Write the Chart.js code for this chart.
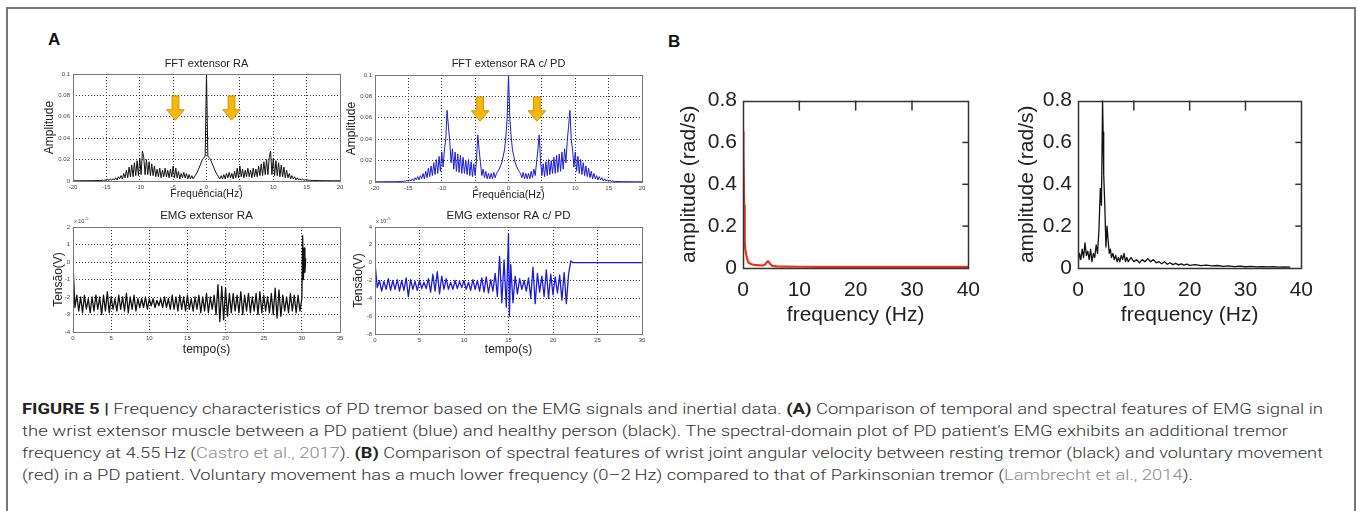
<!DOCTYPE html>
<html lang="pt">
<head>
<meta charset="utf-8">
<title>Figure 5 - PD tremor</title>
<script src="https://cdn.jsdelivr.net/npm/chart.js@4.4.1/dist/chart.umd.min.js"></script>
<style>
  html, body { margin: 0; padding: 0; background: #fff; }
  body { width: 1358px; height: 511px; position: relative; overflow: hidden; font-family: "Liberation Sans", Arial, sans-serif; }
  .frame { position: absolute; left: 6px; top: 7px; width: 1346px; height: 600px; border: 2px solid #777; border-bottom: none; }
  .panel-letter { position: absolute; font-weight: bold; font-size: 17px; line-height: 17px; color: #111; }
  canvas { position: absolute; }
  #caption { position: absolute; left: 22px; top: 398px; font-family: Roboto, "Liberation Sans", sans-serif; font-weight: 300; font-size: 15px; line-height: 22px; color: #333; }
  #caption .ln { white-space: nowrap; transform-origin: 0 0; }
  #caption b { font-weight: 700; color: #222; }
  #caption .ref { color: #8a8a8a; }
</style>
</head>
<body>
<div class="frame"></div>
<div class="panel-letter" style="left:48px;top:31px">A</div>
<div class="panel-letter" style="left:668px;top:33px">B</div>

<canvas id="fftHealthy"></canvas>
<canvas id="fftPd"></canvas>
<canvas id="emgHealthy"></canvas>
<canvas id="emgPd"></canvas>
<canvas id="velVoluntary"></canvas>
<canvas id="velRest"></canvas>

<div id="caption">
  <div class="ln"><span><b>FIGURE 5 |</b> Frequency characteristics of PD tremor based on the EMG signals and inertial data. <b>(A)</b> Comparison of temporal and spectral features of EMG signal in</span></div>
  <div class="ln"><span>the wrist extensor muscle between a PD patient (blue) and healthy person (black). The spectral-domain plot of PD patient’s EMG exhibits an additional tremor</span></div>
  <div class="ln"><span>frequency at 4.55&thinsp;Hz (<span class="ref">Castro et al., 2017</span>). <b>(B)</b> Comparison of spectral features of wrist joint angular velocity between resting tremor (black) and voluntary movement</span></div>
  <div class="ln"><span>(red) in a PD patient. Voluntary movement has a much lower frequency (0–2&thinsp;Hz) compared to that of Parkinsonian tremor (<span class="ref">Lambrecht et al., 2014</span>).</span></div>
</div>

<script>
// Painel A - FFT (metade positiva, o espectro é espelhado em 0 Hz)
const fftFreqHalf = [0,0.2,0.4,0.6,0.8,1,1.2,1.4,1.6,1.8,2,2.2,2.4,2.6,2.8,3,3.2,3.4,3.6,3.8,
  4,4.2,4.4,4.6,4.8,5,5.2,5.4,5.6,5.8,6,6.2,6.4,6.6,6.8,7,7.2,7.4,7.6,7.8,
  8,8.2,8.4,8.6,8.8,9,9.2,9.4,9.6,9.8,10,10.2,10.4,10.6,10.8,11,11.2,11.4,11.6,11.8,
  12,12.2,12.4,12.6,12.8,13,13.2,13.4,13.6,13.8,14,14.2,14.4,14.6,14.8,15,15.2,15.4,15.6,15.8,
  16,17,18,19,20];
const fftHealthyHalf = [0.100,0.023,0.022,0.020,0.017,0.014,0.011,0.008,0.006,0.004,
  0.002,0.005,0.002,0.006,0.002,0.007,0.003,0.008,0.003,0.007,
  0.002,0.009,0.003,0.012,0.003,0.014,0.004,0.011,0.003,0.010,
  0.004,0.012,0.004,0.010,0.003,0.012,0.004,0.011,0.004,0.014,
  0.005,0.016,0.005,0.018,0.006,0.020,0.006,0.022,0.028,0.006,
  0.021,0.005,0.019,0.005,0.017,0.004,0.015,0.004,0.013,0.003,
  0.010,0.003,0.007,0.002,0.005,0.002,0.004,0.001,0.003,0.001,
  0.002,0.001,0.002,0.0005,0.0015,0.0005,0.001,0.0005,0.0008,0.0004,
  0.0005,0.0003,0.0003,0.0002,0.0002];
const fftPdHalf = [0.100,0.060,0.042,0.030,0.024,0.018,0.015,0.012,0.010,0.008,
  0.004,0.009,0.003,0.008,0.003,0.008,0.003,0.010,0.004,0.012,
  0.006,0.018,0.030,0.044,0.020,0.006,0.017,0.005,0.019,0.006,
  0.021,0.007,0.020,0.008,0.023,0.008,0.025,0.009,0.026,0.010,
  0.028,0.012,0.031,0.018,0.038,0.052,0.067,0.040,0.030,0.014,
  0.028,0.010,0.024,0.008,0.021,0.007,0.018,0.006,0.015,0.005,
  0.013,0.004,0.010,0.003,0.008,0.003,0.006,0.002,0.005,0.002,
  0.004,0.001,0.003,0.001,0.002,0.0008,0.0015,0.0006,0.001,0.0005,
  0.0005,0.0003,0.0003,0.0002,0.0002];
const fftFreqTicks = [-20, -15, -10, -5, 0, 5, 10, 15, 20];
const fftAmpTicks = [0, 0.02, 0.04, 0.06, 0.08, 0.1];
const arrowFreqHealthy = [-4.65, 3.75];
const arrowFreqPd = [-4.25, 4.25];
const arrowAmpRange = [0.0795, 0.0568]; // topo e ponta das setas

// Painel A - EMG (tempo em s, tensão em x 10^-5 V)
const emgHealthyTime = [0,0.25,0.5,0.75,1,1.25,1.5,1.75,2,2.25,2.5,2.75,3,3.25,3.5,3.75,4,4.25,4.5,4.75,
  5,5.25,5.5,5.75,6,6.25,6.5,6.75,7,7.25,7.5,7.75,8,8.25,8.5,8.75,9,9.25,9.5,9.75,
  10,10.25,10.5,10.75,11,11.25,11.5,11.75,12,12.25,12.5,12.75,13,13.25,13.5,13.75,14,14.25,14.5,14.75,
  15,15.25,15.5,15.75,16,16.25,16.5,16.75,17,17.25,17.5,17.75,18,18.25,18.5,18.75,19,19.25,19.5,19.75,
  20,20.25,20.5,20.75,21,21.25,21.5,21.75,22,22.25,22.5,22.75,23,23.25,23.5,23.75,24,24.25,24.5,24.75,
  25,25.25,25.5,25.75,26,26.25,26.5,26.75,27,27.25,27.5,27.75,28,28.25,28.5,28.75,29,29.25,29.5,29.75,
  30,30.1,30.2,30.3,30.4,30.5];
const emgHealthyVolt = [-0.1,-2.6,-1.9,-2.8, -2.0,-2.9,-1.9,-2.7, -2.1,-2.9,-2.0,-2.8, -1.9,-2.7,-2.0,-3.0, -1.9,-2.8,-1.7,-2.9,
  -2.0,-2.7,-2.1,-2.8, -1.9,-2.7,-2.0,-2.8, -1.8,-2.9,-2.0,-2.7, -1.9,-2.8,-2.1,-2.6, -2.1,-2.6,-2.0,-2.7,
  -2.1,-2.5,-2.1,-2.6, -2.2,-2.5,-2.1,-2.6, -2.0,-2.6,-2.1,-2.7, -1.9,-2.7,-2.0,-2.8, -1.9,-2.7,-2.0,-2.8,
  -1.9,-2.7,-2.1,-2.8, -2.0,-2.7,-1.9,-2.9, -2.0,-2.8,-1.8,-2.9, -2.0,-2.7,-1.9,-3.0, -1.3,-3.4,-1.4,-3.3,
  -1.5,-3.1,-1.8,-2.9, -1.8,-2.8,-1.9,-2.9, -1.7,-3.0,-1.9,-2.8, -1.8,-2.9,-2.0,-2.8, -1.8,-3.0,-1.7,-2.9,
  -1.9,-2.8,-2.0,-2.9, -1.8,-3.0,-1.5,-3.2, -1.6,-3.1,-1.9,-2.8, -2.0,-2.9,-1.8,-2.8, -1.9,-2.9,-1.9,-2.8,
  -2.1,1.5,-1.0,0.8,-0.6,0.2];
const emgPdTime = [0,0.25,0.5,0.75,1,1.25,1.5,1.75,2,2.25,2.5,2.75,3,3.25,3.5,3.75,4,4.25,4.5,4.75,
  5,5.25,5.5,5.75,6,6.25,6.5,6.75,7,7.25,7.5,7.75,8,8.25,8.5,8.75,9,9.25,9.5,9.75,
  10,10.25,10.5,10.75,11,11.25,11.5,11.75,12,12.25,12.5,12.75,13,13.25,13.5,13.75,14,14.25,14.5,14.75,
  15,15.1,15.25,15.5,15.75,16,16.25,16.5,16.75,17,17.25,17.5,17.75,18,18.25,18.5,18.75,19,19.25,19.5,19.75,
  20,20.25,20.5,20.75,21,21.25,21.5,21.75,22,22.25,30];
const emgPdVolt = [0.0,-2.8,-2.0,-3.2, -2.1,-3.0,-1.8,-3.1, -2.0,-3.0,-1.9,-3.2, -2.0,-3.1,-1.7,-3.8, -1.9,-3.0,-2.1,-3.1,
  -2.0,-2.9,-2.2,-2.9, -1.8,-3.3,-1.3,-3.2, -1.0,-3.5,-1.5,-3.0, -1.8,-3.0,-2.2,-3.0, -2.0,-2.9,-2.1,-2.8,
  -2.0,-3.0,-2.2,-3.1, -1.9,-3.0,-2.0,-3.2, -1.7,-3.3,-1.6,-3.4, -1.9,-3.2,-1.2,-3.8, 0.7,-4.5,0.3,-5.0,
  3.2,-6.0,-0.2,-4.5,-1.5, -3.5,-1.8,-3.0,-2.0, -3.2,-1.7,-4.0,-0.5, -4.6,-1.2,-3.3,-1.5, -3.8,-0.8,-4.0,-1.3,
  -3.6,-1.6,-3.4,-1.4, -4.2,-1.1,-4.6,-1.3, 0.2,0, 0];
const emgHealthyTimeTicks = [0, 5, 10, 15, 20, 25, 30, 35];
const emgHealthyVoltTicks = [-4, -3, -2, -1, 0, 1, 2];
const emgPdTimeTicks = [0, 5, 10, 15, 20, 25, 30];
const emgPdVoltTicks = [-8, -6, -4, -2, 0, 2, 4];

// Painel B - velocidade angular do punho (rad/s)
const voluntaryFreq = [0,0.05,0.1,0.2,0.3,0.4,0.6,0.8,1,1.5,2,2.5,3,3.5,4,4.3,4.5,4.8,5.2,6,8,10,15,20,25,30,35,40];
const voluntaryAmp = [0.65,0.60,0.55,0.30,0.13,0.09,0.06,0.04,0.025,0.018,0.015,0.014,0.013,0.012,0.018,0.030,0.032,0.020,0.010,0.008,0.007,0.006,0.005,0.005,0.005,0.005,0.005,0.005];
const restFreq = [0,0.25,0.5,0.75,1,1.25,1.5,1.75,2,2.25,2.5,2.75,3,3.25,3.5,3.75,
  4,4.2,4.4,4.5,4.6,4.8,5,5.2,5.4,5.6,5.8,
  6,6.25,6.5,6.75,7,7.25,7.5,7.75,8,8.25,8.5,8.75,
  9,9.5,10,10.5,11,11.5,12,12.5,13,13.5,14,14.5,15,15.5,16,16.5,17,17.5,18,18.5,19,19.5,
  20,21,22,23,24,25,26,27,28,29,30,31,32,33,34,35,36,37,38];
const restAmp = [0.02,0.07,0.04,0.09,0.05,0.12,0.06,0.08,0.04,0.09,0.03,0.07,0.05,0.11,0.07,0.18,
  0.38,0.30,0.80,0.65,0.45,0.30,0.10,0.20,0.13,0.07,0.09,
  0.05,0.07,0.04,0.06,0.03,0.05,0.03,0.06,0.04,0.07,0.03,0.05,
  0.03,0.05,0.03,0.04,0.025,0.04,0.03,0.045,0.03,0.04,0.025,0.03,0.02,0.03,0.018,0.025,0.016,0.022,0.015,0.02,0.014,0.018,
  0.013,0.016,0.011,0.014,0.010,0.012,0.008,0.010,0.007,0.009,0.006,0.008,0.005,0.007,0.005,0.006,0.004,0.005,0.004];
const velFreqTicks = [0, 10, 20, 30, 40];
const velAmpTicks = [0, 0.2, 0.4, 0.6, 0.8];

// Largura final de cada linha da legenda (px), medida na figura
const captionLineWidths = [1301, 1266, 1301, 1171];

const FONT = '"Liberation Sans", Arial, sans-serif';
Chart.defaults.font.family = FONT;
Chart.defaults.color = '#333';

const toPoints = (xs, ys) => xs.map((x, i) => ({ x: x, y: ys[i] }));
const mirrorFreq = f => f.slice(1).reverse().map(v => -v).concat(f);
const mirrorAmp = a => a.slice(1).reverse().concat(a);

// Geometria de cada gráfico (área do gráfico em px da página)
const geo = {
  fftHealthy: { L: 73, T: 74, R: 340, B: 181, title: 'FFT extensor RA', titleY: 64, titleSize: 11,
    yTitle: 'Amplitude', yTitleX: 49, yTitleSize: 12, xTitle: 'Frequência(Hz)', xTitleY: 194, xTitleSize: 10.5,
    padR: 10, tickSize: 6, xTickPad: 3, yTickPad: 3, grid: true, frameColor: '#777', frameWidth: 1 },
  fftPd: { L: 375, T: 75, R: 642, B: 182, title: 'FFT extensor RA c/ PD', titleY: 64, titleSize: 11,
    yTitle: 'Amplitude', yTitleX: 351, yTitleSize: 12, xTitle: 'Frequência(Hz)', xTitleY: 195, xTitleSize: 10.5,
    padR: 10, tickSize: 6, xTickPad: 3, yTickPad: 3, grid: true, frameColor: '#777', frameWidth: 1 },
  emgHealthy: { L: 73, T: 227, R: 340, B: 332, title: 'EMG extensor RA', titleY: 216, titleSize: 11.5,
    yTitle: 'Tensão(V)', yTitleX: 58, yTitleSize: 12, xTitle: 'tempo(s)', xTitleY: 350, xTitleSize: 12,
    padR: 10, tickSize: 6, xTickPad: 3, yTickPad: 3, grid: true, frameColor: '#777', frameWidth: 1 },
  emgPd: { L: 375, T: 227, R: 642, B: 334, title: 'EMG extensor RA c/ PD', titleY: 216, titleSize: 11.5,
    yTitle: 'Tensão(V)', yTitleX: 358, yTitleSize: 12, xTitle: 'tempo(s)', xTitleY: 350, xTitleSize: 12,
    padR: 10, tickSize: 6, xTickPad: 3, yTickPad: 3, grid: true, frameColor: '#777', frameWidth: 1 },
  velVoluntary: { L: 743, T: 97, R: 970, B: 268, padT: 15,
    yTitle: 'amplitude (rad/s)', yTitleX: 690, yTitleSize: 21, xTitle: 'frequency (Hz)', xTitleY: 315, xTitleSize: 21,
    padR: 20, tickSize: 21, xTickPad: 10, yTickPad: 6, grid: false, frameColor: '#333', frameWidth: 1.5 },
  velRest: { L: 1078, T: 97, R: 1303, B: 268, padT: 15,
    yTitle: 'amplitude (rad/s)', yTitleX: 1028, yTitleSize: 21, xTitle: 'frequency (Hz)', xTitleY: 315, xTitleSize: 21,
    padR: 20, tickSize: 21, xTickPad: 10, yTickPad: 6, grid: false, frameColor: '#333', frameWidth: 1.5 }
};

// Plugin com moldura, título, setas, expoente e marcas internas
function makeDecor(g, canvasTop, extras) {
  return {
    id: 'decor',
    afterDatasetsDraw(chart) {
      const { ctx, chartArea: a, scales } = chart;
      ctx.save();
      if (extras.arrows) {
        extras.arrows.forEach(f => {
          const x = scales.x.getPixelForValue(f);
          const yTop = scales.y.getPixelForValue(arrowAmpRange[0]);
          const yTip = scales.y.getPixelForValue(arrowAmpRange[1]);
          const yHead = yTip - 10.5;
          ctx.beginPath();
          ctx.moveTo(x - 3.4, yTop);
          ctx.lineTo(x + 3.4, yTop);
          ctx.lineTo(x + 3.4, yHead);
          ctx.lineTo(x + 8.8, yHead);
          ctx.lineTo(x, yTip);
          ctx.lineTo(x - 8.8, yHead);
          ctx.lineTo(x - 3.4, yHead);
          ctx.closePath();
          ctx.fillStyle = '#f7b70d';
          ctx.fill();
          ctx.strokeStyle = '#d29700';
          ctx.lineWidth = 1;
          ctx.stroke();
        });
      }
      if (extras.innerTicks) {
        ctx.strokeStyle = g.frameColor;
        ctx.lineWidth = g.frameWidth;
        extras.innerTicks.x.slice(1, -1).forEach(v => {
          const x = scales.x.getPixelForValue(v);
          ctx.beginPath(); ctx.moveTo(x, a.top); ctx.lineTo(x, a.top + 10); ctx.stroke();
        });
        extras.innerTicks.y.slice(1, -1).forEach(v => {
          const y = scales.y.getPixelForValue(v);
          ctx.beginPath(); ctx.moveTo(a.right, y); ctx.lineTo(a.right - 6, y); ctx.stroke();
        });
      }
      // moldura
      ctx.strokeStyle = g.frameColor;
      ctx.lineWidth = g.frameWidth;
      ctx.strokeRect(Math.round(a.left) + 0.5, Math.round(a.top) + 0.5, Math.round(a.right - a.left), Math.round(a.bottom - a.top));
      if (g.title) {
        ctx.fillStyle = '#222';
        ctx.font = g.titleSize + 'px ' + FONT;
        ctx.textAlign = 'center';
        ctx.textBaseline = 'middle';
        ctx.fillText(g.title, (a.left + a.right) / 2, g.titleY - canvasTop);
      }
      if (extras.exponent) {
        ctx.fillStyle = '#444';
        ctx.textAlign = 'left';
        ctx.textBaseline = 'alphabetic';
        ctx.font = '5.5px ' + FONT;
        ctx.fillText('x 10', a.left + 1, a.top - 4);
        ctx.font = '4px ' + FONT;
        ctx.fillText('-5', a.left + 12, a.top - 7);
      }
      ctx.restore();
    }
  };
}

function createChart(id, datasets, xTicks, yTicks, extras) {
  const g = geo[id];
  const canvas = document.getElementById(id);
  const left = Math.round(g.yTitleX - g.yTitleSize * 0.6);
  const top = Math.round(g.title ? g.titleY - g.titleSize * 0.6 : g.T - g.padT);
  const right = g.R + g.padR;
  const bottom = Math.round(g.xTitleY + g.xTitleSize * 0.6);
  canvas.width = right - left;
  canvas.height = bottom - top;
  canvas.style.left = left + 'px';
  canvas.style.top = top + 'px';
  canvas.style.width = (right - left) + 'px';
  canvas.style.height = (bottom - top) + 'px';

  const axis = (ticksArr, isX) => ({
    type: 'linear',
    min: ticksArr[0],
    max: ticksArr[ticksArr.length - 1],
    afterBuildTicks: s => { s.ticks = ticksArr.map(v => ({ value: v })); },
    afterFit: s => { if (isX) s.height = bottom - g.B; else s.width = g.L - left; },
    grid: g.grid ? { color: '#333', lineWidth: 1, drawTicks: false } : { display: false, drawTicks: false },
    border: { display: false, dash: [1, 2] },
    ticks: {
      autoSkip: false, maxRotation: 0, minRotation: 0,
      padding: isX ? g.xTickPad : g.yTickPad,
      color: g.grid ? '#444' : '#222',
      font: { size: g.tickSize },
      callback: v => String(v)
    },
    title: {
      display: true, text: isX ? g.xTitle : g.yTitle, padding: 0, color: '#222',
      font: { size: isX ? g.xTitleSize : g.yTitleSize, lineHeight: 1.2 }
    }
  });

  return new Chart(canvas.getContext('2d'), {
    type: 'line',
    data: { datasets: datasets },
    options: {
      responsive: false,
      animation: false,
      events: [],
      layout: { autoPadding: false, padding: { left: 0, top: g.T - top, right: g.padR, bottom: 0 } },
      plugins: { legend: { display: false }, tooltip: { enabled: false }, title: { display: false } },
      elements: { point: { radius: 0 }, line: { tension: 0, borderJoinStyle: 'round' } },
      scales: { x: axis(xTicks, true), y: axis(yTicks, false) }
    },
    plugins: [makeDecor(g, top, extras || {})]
  });
}

const lineSet = (points, color, width) => ({ data: points, borderColor: color, borderWidth: width, fill: false });

createChart('fftHealthy',
  [lineSet(toPoints(mirrorFreq(fftFreqHalf), mirrorAmp(fftHealthyHalf)), '#111', 1)],
  fftFreqTicks, fftAmpTicks, { arrows: arrowFreqHealthy });
createChart('fftPd',
  [lineSet(toPoints(mirrorFreq(fftFreqHalf), mirrorAmp(fftPdHalf)), '#1c1cd8', 1)],
  fftFreqTicks, fftAmpTicks, { arrows: arrowFreqPd });
createChart('emgHealthy',
  [lineSet(toPoints(emgHealthyTime, emgHealthyVolt), '#111', 1.3)],
  emgHealthyTimeTicks, emgHealthyVoltTicks, { exponent: true });
createChart('emgPd',
  [lineSet(toPoints(emgPdTime, emgPdVolt), '#1c1cd8', 1.3)],
  emgPdTimeTicks, emgPdVoltTicks, { exponent: true });
createChart('velVoluntary',
  [lineSet(toPoints(voluntaryFreq, voluntaryAmp), '#e8341c', 2.2)],
  velFreqTicks, velAmpTicks, { innerTicks: { x: velFreqTicks, y: velAmpTicks } });
createChart('velRest',
  [lineSet(toPoints(restFreq, restAmp), '#111', 1.3)],
  velFreqTicks, velAmpTicks, { innerTicks: { x: velFreqTicks, y: velAmpTicks } });

// Ajuste horizontal de cada linha da legenda
function fitCaption() {
  const spans = document.querySelectorAll('#caption .ln > span');
  const lines = document.querySelectorAll('#caption .ln');
  lines.forEach((l, i) => {
    l.style.transform = 'none';
    const natural = spans[i].getBoundingClientRect().width;
    l.style.transform = 'scaleX(' + (captionLineWidths[i] / natural) + ')';
  });
}
fitCaption();
if (document.fonts) document.fonts.ready.then(fitCaption);
</script>
</body>
</html>
